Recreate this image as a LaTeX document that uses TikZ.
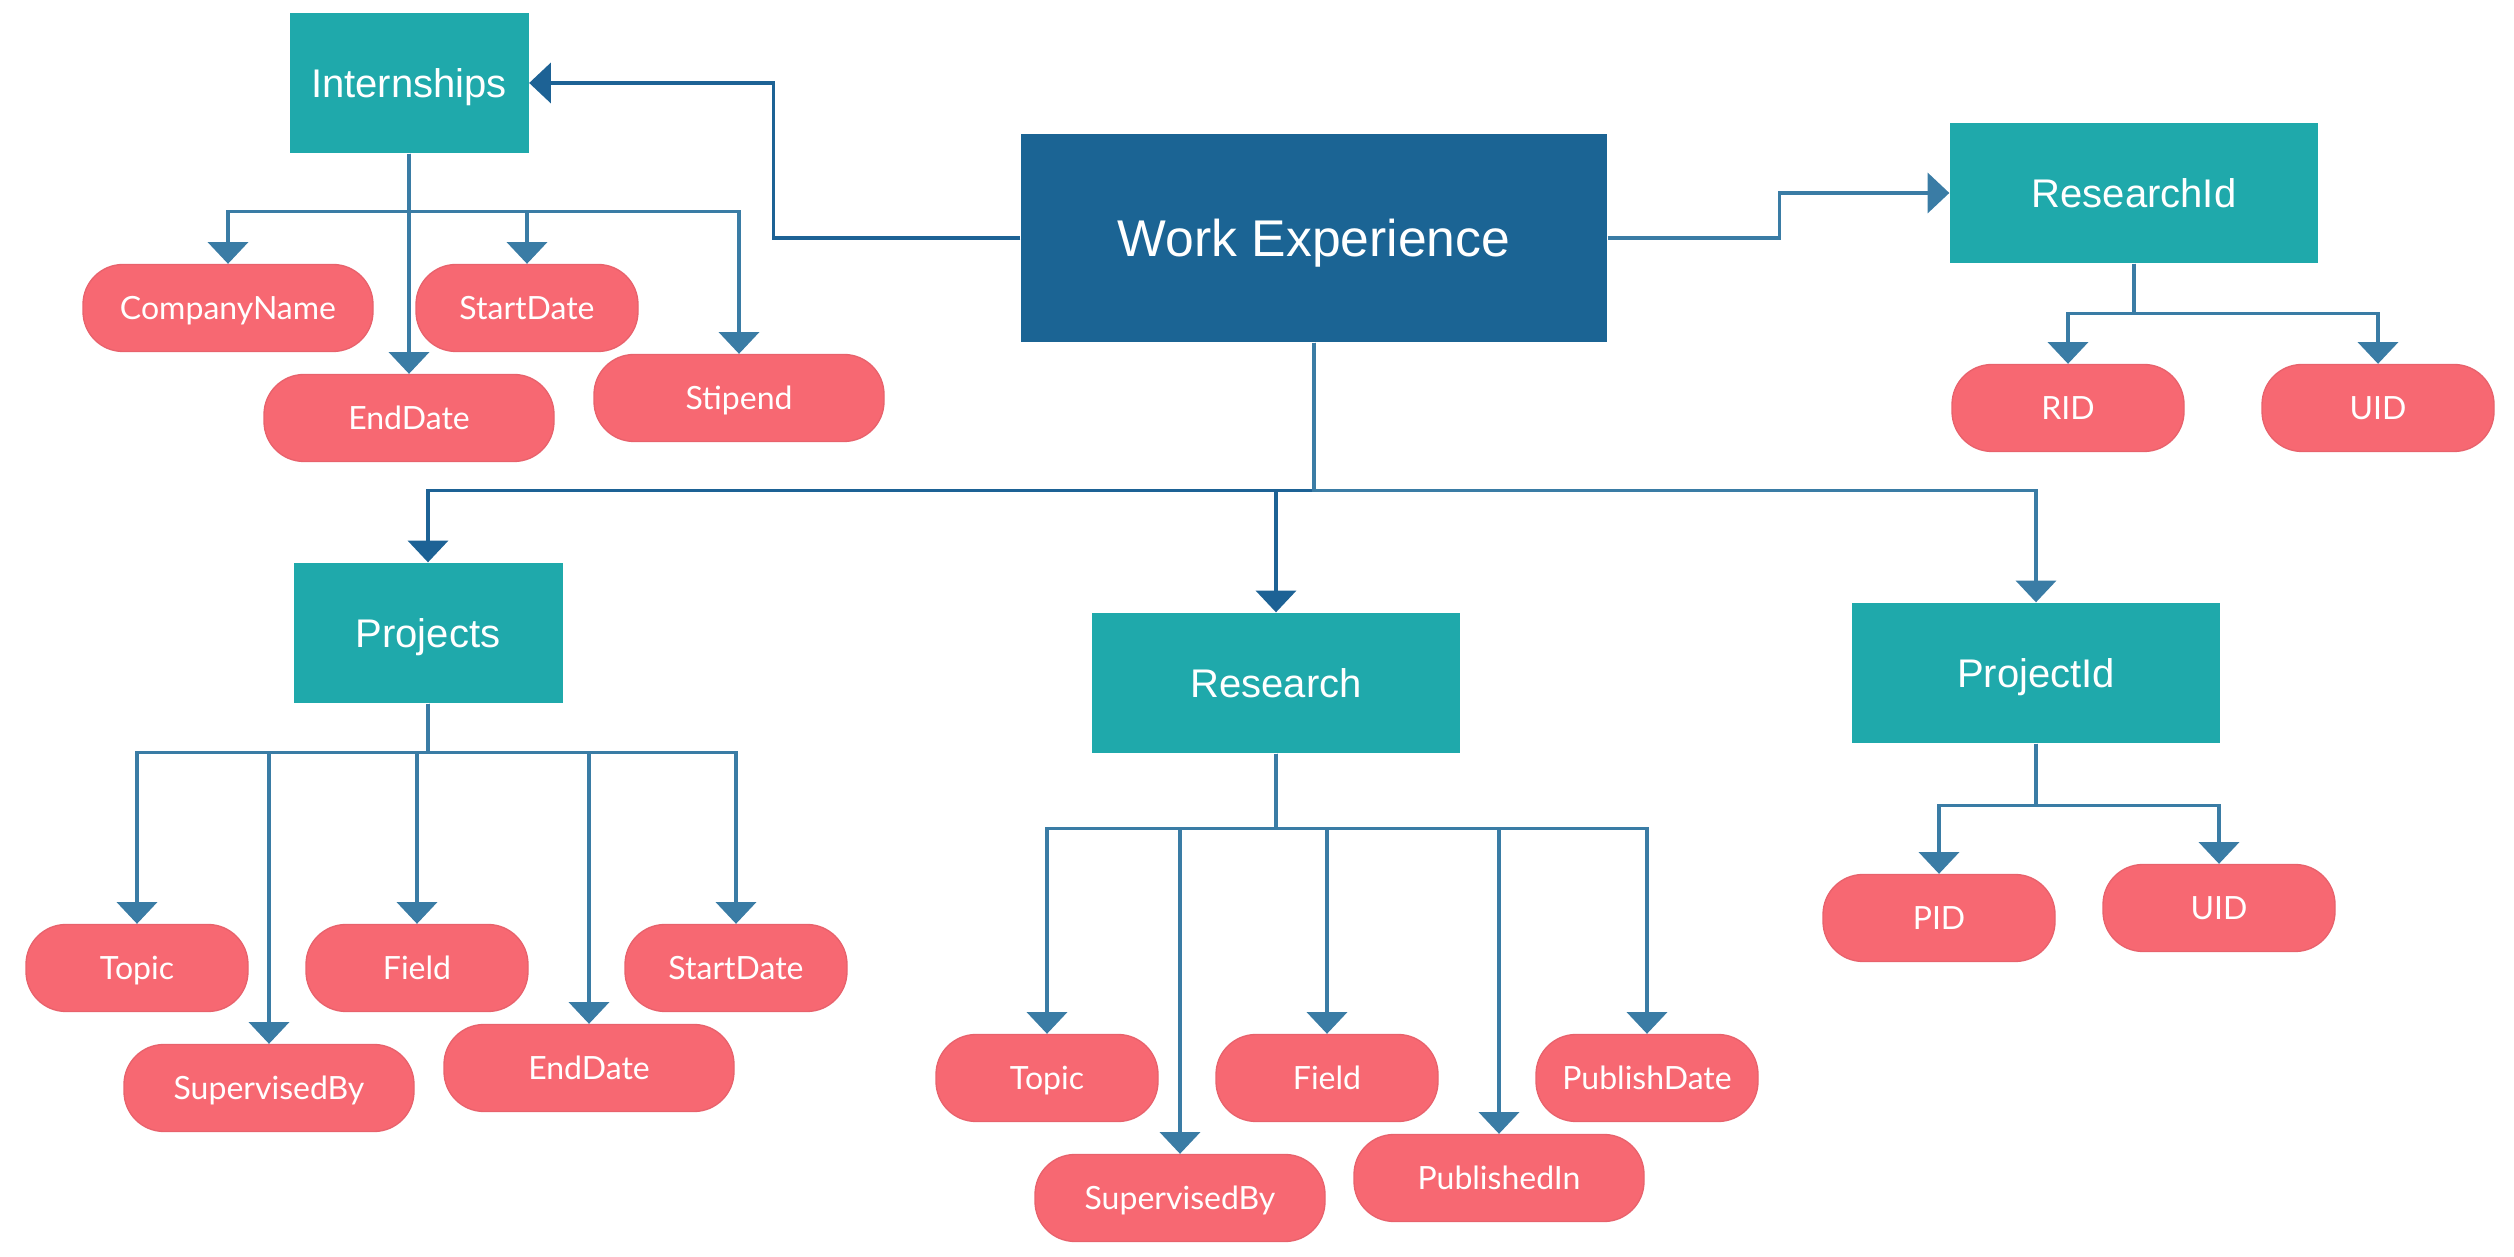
\documentclass[tikz,border=0pt]{standalone}
\usepackage{fontspec}
\setmainfont{Liberation Sans}
\newfontfamily\pillfont{Lato}
\usetikzlibrary{arrows.meta}

\definecolor{workblue}{HTML}{1B6494}
\definecolor{entteal}{HTML}{1FA9AB}
\definecolor{attrpink}{HTML}{F76872}
\definecolor{attrline}{HTML}{E8626C}
\definecolor{linkdark}{HTML}{1D6295}
\definecolor{linkmid}{HTML}{3A7CA5}

\begin{document}
\begin{tikzpicture}[x=0.3pt, y=-0.3pt,
		entity/.style={fill=entteal, text=white, text depth=0pt, minimum height=42pt, font=\fontsize{12}{14}\selectfont},
		attr/.style={fill=attrpink, draw=attrline, line width=0.4pt, rounded corners=12pt, text=white, text depth=0pt, minimum height=26.1pt, minimum width=66.6pt, font=\pillfont\fontsize{9.6}{11}\selectfont},
		wide/.style={attr, minimum width=87pt},
		idattr/.style={attr, minimum width=69.6pt},
		link/.style={draw=linkmid, line width=1pt, -{Triangle[width=12pt,length=6.5pt]}},
		mainlink/.style={link, draw=linkdark},
	]
		\useasboundingbox (0,0) rectangle (2514,1257);

		\node (work) [fill=workblue, text=white, text depth=0pt, minimum width=175.8pt, minimum height=62.4pt, font=\fontsize{15.5}{18}\selectfont] at (1314,238) {Work Experience};

		\node (intern) [entity, minimum width=71.7pt] at (409,83) {Internships};
		\node (resid) [entity, minimum width=110.4pt] at (2134,193) {ResearchId};
		\node (proj) [entity, minimum width=80.7pt] at (428,633) {Projects};
		\node (res) [entity, minimum width=110.4pt] at (1276,683) {Research};
		\node (projid) [entity, minimum width=110.4pt] at (2036,673) {ProjectId};

		% internships
		\node (cname) [wide] at (228,308) {CompanyName};
		\node (iend) [wide] at (409,418) {EndDate};
		\node (istart) [attr] at (527,308) {StartDate};
		\node (stipend) [wide] at (739,398) {Stipend};

		% research id
		\node (rid) [idattr] at (2068,408) {RID};
		\node (ruid) [idattr] at (2378,408) {UID};

		% projects
		\node (ptopic) [attr] at (137,968) {Topic};
		\node (psup) [wide] at (269,1088) {SupervisedBy};
		\node (pfield) [attr] at (417,968) {Field};
		\node (pend) [wide] at (589,1068) {EndDate};
		\node (pstart) [attr] at (736,968) {StartDate};

		% research
		\node (rtopic) [attr] at (1047,1078) {Topic};
		\node (rsup) [wide] at (1180,1198) {SupervisedBy};
		\node (rfield) [attr] at (1327,1078) {Field};
		\node (rpubin) [wide] at (1499,1178) {PublishedIn};
		\node (rpubdate) [attr] at (1647,1078) {PublishDate};

		% project id
		\node (pid) [idattr] at (1939,918) {PID};
		\node (puid) [idattr] at (2219,908) {UID};

		\draw[mainlink] (work.west) -- ++(-247,0) |- (intern.east);
		\draw[link] (work.east) -- ++(172,0) |- (resid.west);
		\draw[mainlink] (work.south) -- ++(0,148) -| (proj.north);
		\draw[mainlink] (work.south) -- ++(0,148) -| (res.north);
		\draw[link] (work.south) -- ++(0,148) -| (projid.north);

		\draw[link] (intern.south) -- ++(0,58) -| (cname.north);
		\draw[link] (intern.south) -- ++(0,58) -| (iend.north);
		\draw[link] (intern.south) -- ++(0,58) -| (istart.north);
		\draw[link] (intern.south) -- ++(0,58) -| (stipend.north);

		\draw[link] (resid.south) -- ++(0,50) -| (rid.north);
		\draw[link] (resid.south) -- ++(0,50) -| (ruid.north);

		\draw[link] (proj.south) -- ++(0,49) -| (ptopic.north);
		\draw[link] (proj.south) -- ++(0,49) -| (psup.north);
		\draw[link] (proj.south) -- ++(0,49) -| (pfield.north);
		\draw[link] (proj.south) -- ++(0,49) -| (pend.north);
		\draw[link] (proj.south) -- ++(0,49) -| (pstart.north);

		\draw[link] (res.south) -- ++(0,75) -| (rtopic.north);
		\draw[link] (res.south) -- ++(0,75) -| (rsup.north);
		\draw[link] (res.south) -- ++(0,75) -| (rfield.north);
		\draw[link] (res.south) -- ++(0,75) -| (rpubin.north);
		\draw[link] (res.south) -- ++(0,75) -| (rpubdate.north);

		\draw[link] (projid.south) -- ++(0,62) -| (pid.north);
		\draw[link] (projid.south) -- ++(0,62) -| (puid.north);
	\end{tikzpicture}
\end{document}
